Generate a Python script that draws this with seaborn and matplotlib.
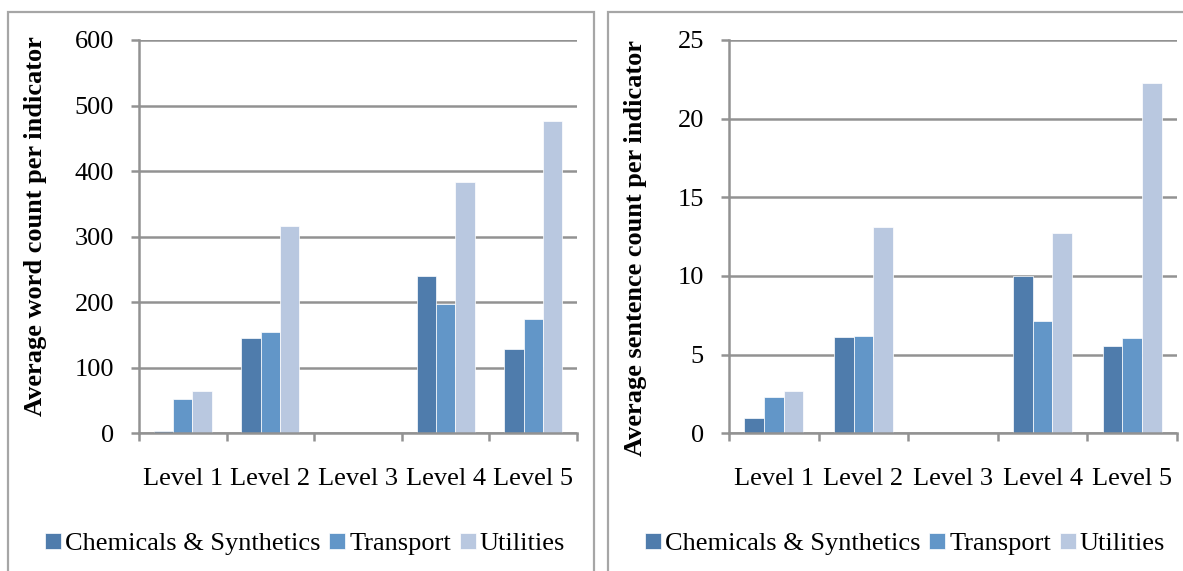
import matplotlib
matplotlib.use("Agg")
import matplotlib.pyplot as plt
from matplotlib.patches import Rectangle
import numpy as np
import pandas as pd
import seaborn as sns

# Chart data
levels = ["Level 1", "Level 2", "Level 3", "Level 4", "Level 5"]
sectors = ["Chemicals & Synthetics", "Transport", "Utilities"]

word_chemicals = [4, 146, 0, 240, 129]
word_transport = [53, 155, 0, 198, 175]
word_utilities = [64, 317, 0, 384, 476]

sent_chemicals = [0.95, 6.15, 0, 10.0, 5.55]
sent_transport = [2.3, 6.2, 0, 7.15, 6.05]
sent_utilities = [2.7, 13.1, 0, 12.75, 22.25]

word_ticks = [0, 100, 200, 300, 400, 500, 600]
sent_ticks = [0, 5, 10, 15, 20, 25]

palette = ["#4F7CAC", "#6296C8", "#B9C8E0"]
grid_color = "#929292"

sns.set_theme(style="white")
plt.rcParams["font.family"] = ["Liberation Serif", "DejaVu Serif"]
plt.rcParams["text.color"] = "black"
plt.rcParams["axes.labelcolor"] = "black"
plt.rcParams["xtick.color"] = "black"
plt.rcParams["ytick.color"] = "black"


def long_frame(chem, trans, util):
    rows = []
    for series, vals in zip(sectors, [chem, trans, util]):
        for lvl, v in zip(levels, vals):
            rows.append({"Level": lvl, "Sector": series, "Value": v})
    return pd.DataFrame(rows)


fig = plt.figure(figsize=(11.83, 5.71), dpi=100)
W, H = 1183, 571


def px_box(x0, y0, x1, y1):
    return [x0 / W, 1 - y1 / H, (x1 - x0) / W, (y1 - y0) / H]


# Panel frames
for (x0, y0, x1, y1) in [(8, 12, 594, 580), (608, 12, 1195, 580)]:
    fig.patches.append(Rectangle((x0 / W, 1 - y1 / H), (x1 - x0) / W, (y1 - y0) / H,
                                 transform=fig.transFigure, fill=False,
                                 edgecolor="#A6A6A6", linewidth=1.6, zorder=0))

panels = [
    dict(box=(139, 40, 577, 433.3), data=(word_chemicals, word_transport, word_utilities),
         ticks=word_ticks, ylabel="Average word count per indicator",
         label_xy=(-0.21, 0.527), legend_x=305),
    dict(box=(729, 40, 1177, 433.3), data=(sent_chemicals, sent_transport, sent_utilities),
         ticks=sent_ticks, ylabel="Average sentence count per indicator",
         label_xy=(-0.183, 0.47), legend_x=905),
]

fs = 19
for p in panels:
    ax = fig.add_axes(px_box(*p["box"]))
    df = long_frame(*p["data"])
    sns.barplot(data=df, x="Level", y="Value", hue="Sector", order=levels,
                hue_order=sectors, palette=palette, width=0.66, saturation=1,
                edgecolor="white", linewidth=0.5, ax=ax, legend=True)
    ax.set_ylim(p["ticks"][0], p["ticks"][-1])
    ax.set_xlim(-0.5, len(levels) - 0.5)
    ax.set_yticks(p["ticks"])
    ax.set_yticklabels([str(t) for t in p["ticks"]], fontsize=fs)
    ax.yaxis.grid(True, color=grid_color, linewidth=1.8)
    ax.set_axisbelow(True)
    for s in ["top", "right"]:
        ax.spines[s].set_visible(False)
    for s in ["left", "bottom"]:
        ax.spines[s].set_color(grid_color)
        ax.spines[s].set_linewidth(1.8)
    ax.tick_params(axis="y", length=6, width=1.8, color=grid_color, pad=12,
                   left=True, direction="out")
    ax.set_xticks(range(len(levels)))
    ax.set_xticklabels(levels, fontsize=fs)
    ax.tick_params(axis="x", which="major", length=0, pad=25)
    ax.set_xticks(np.arange(-0.5, len(levels)), minor=True)
    ax.tick_params(axis="x", which="minor", length=6, width=1.8, color=grid_color,
                   bottom=True, direction="out")
    ax.set_xlabel("")
    ax.set_ylabel(p["ylabel"], fontsize=fs, fontweight="bold")
    ax.yaxis.set_label_coords(*p["label_xy"])
    handles, labels = ax.get_legend_handles_labels()
    ax.get_legend().remove()
    fig.legend(handles, labels, loc="center", ncol=3, frameon=False,
               bbox_to_anchor=(p["legend_x"] / W, 1 - 544 / H),
               fontsize=fs, handlelength=0.6, handleheight=0.6,
               handletextpad=0.15, columnspacing=0.35)

fig.savefig("out.png", dpi=100)
